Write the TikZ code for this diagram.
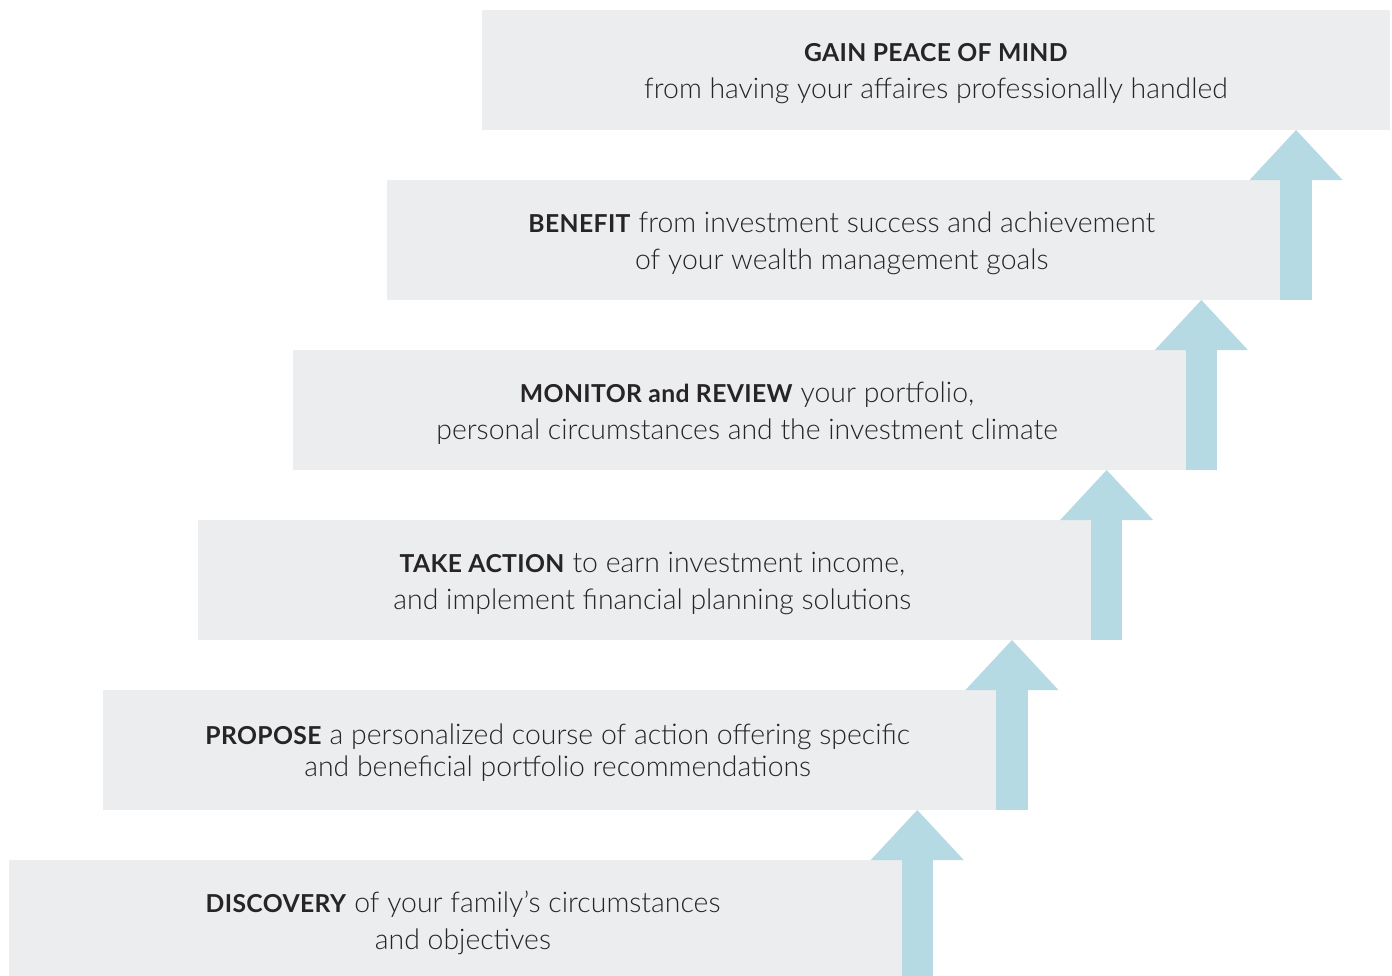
\documentclass[tikz,border=0pt]{standalone}
\usepackage{fontspec}
\setmainfont{Lato}[UprightFont = * Light, BoldFont = * Bold,
   BoldFeatures = {Scale = 0.87, LetterSpace = 1.5}]
\usetikzlibrary{positioning, arrows.meta}
\definecolor{boxgray}{HTML}{ECEDEF}
\definecolor{stepblue}{HTML}{B5DAE3}
\definecolor{textgray}{HTML}{262425}
\tikzset{
stepbox/.style = {rectangle, fill = boxgray, inner sep = 0pt, outer sep = 0pt,
   minimum width = 893pt, minimum height = 120pt},
steptext/.style = {align = center, text = textgray, inner sep = 0pt,
   font = \fontsize{28.4}{37}\selectfont},
stepup/.style = {-{Triangle[width = 93pt, length = 50pt, line width = 0pt]},
   line width = 31.5pt, stepblue}
}

\begin{document}
\begin{tikzpicture}[x = 1pt, y = -1pt]
\useasboundingbox (0,0) rectangle (1392,975);

%% Steps, top down
\node [stepbox, minimum width = 908pt, anchor = north west] (B1) at (482,10) {};
\node [stepbox] (B2) [below = 50pt of B1.south west, anchor = north west, xshift = -94.7pt] {};
\node [stepbox] (B3) [below = 50pt of B2.south west, anchor = north west, xshift = -94.7pt] {};
\node [stepbox] (B4) [below = 50pt of B3.south west, anchor = north west, xshift = -94.7pt] {};
\node [stepbox] (B5) [below = 50pt of B4.south west, anchor = north west, xshift = -94.7pt] {};
\node [stepbox] (B6) [below = 50pt of B5.south west, anchor = north west, xshift = -94.7pt] {};

%% Texts
\node [steptext] (T1) at ([yshift = -4pt]B1.center) {\textbf{GAIN PEACE OF MIND}\\from having your affaires professionally handled};
\node [steptext] (T2) at ([xshift = 8pt, yshift = -3pt]B2.center) {\textbf{BENEFIT} from investment success and achievement\\of your wealth management goals};
\node [steptext] (T3) at ([xshift = 8pt, yshift = -3pt]B3.center) {\textbf{MONITOR and REVIEW} your portfolio,\\personal circumstances and the investment climate};
\node [steptext] (T4) at ([xshift = 8pt, yshift = -3pt]B4.center) {\textbf{TAKE ACTION} to earn investment income,\\and implement financial planning solutions};
\node [steptext] (T5) at ([xshift = 8pt, yshift = -3pt]B5.center) {\textbf{PROPOSE} a personalized course of action offering specific\\[-5pt]and beneficial portfolio recommendations};
\node [steptext] (T6) at ([xshift = 8pt, yshift = -3pt]B6.center) {\textbf{DISCOVERY} of your family’s circumstances\\and objectives};

%% Arrows up
\draw [stepup] ([xshift = 15.75pt]B2.south east) -- ([xshift = 15.75pt]B2.south east |- B1.south);
\draw [stepup] ([xshift = 15.75pt]B3.south east) -- ([xshift = 15.75pt]B3.south east |- B2.south);
\draw [stepup] ([xshift = 15.75pt]B4.south east) -- ([xshift = 15.75pt]B4.south east |- B3.south);
\draw [stepup] ([xshift = 15.75pt]B5.south east) -- ([xshift = 15.75pt]B5.south east |- B4.south);
\draw [stepup] ([xshift = 15.75pt]B6.south east) -- ([xshift = 15.75pt]B6.south east |- B5.south);

\end{tikzpicture}
\end{document}
